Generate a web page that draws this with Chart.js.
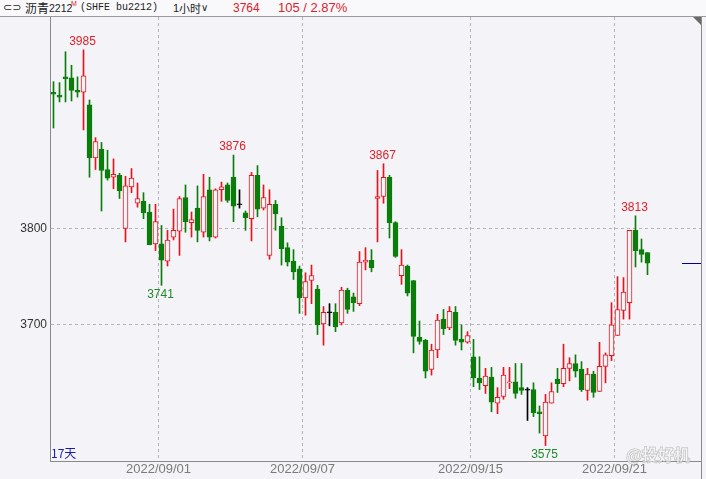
<!DOCTYPE html>
<html>
<head>
<meta charset="utf-8">
<script src="https://cdn.jsdelivr.net/npm/chart.js@4.4.0/dist/chart.umd.min.js"></script>
<style>
  html, body { margin: 0; padding: 0; background: #f4f4f8; }
  #wrap { position: relative; width: 706px; height: 479px; overflow: hidden; }
  #chart { position: absolute; left: 0; top: 0; }
  #head { position: absolute; left: 0; top: 0; width: 706px; height: 16px; background: #f9f9fb;
          border-bottom: 1px solid #9a9a9a; font: 12px "Liberation Sans", Arial, sans-serif; color: #222; }
  #head span { position: absolute; top: 1px; line-height: 14px; white-space: nowrap; }
  #head .cjk { font-family: "Noto Sans CJK SC", sans-serif; }
  #head .red { color: #e0202a; }
</style>
</head>
<body>
<div id="wrap">
  <canvas id="chart" width="706" height="479"></canvas>
  <div id="head">
    <span style="left:3px;font-family:'DejaVu Sans';font-size:11px;">&#8834;&#8835;</span>
    <span class="cjk" style="left:25px;">沥青</span>
    <span style="left:49px;font-size:10.5px;">2212</span>
    <span class="red" style="left:71px;top:0;font-size:7px;line-height:8px;">M</span>
    <span style="left:80px;font-family:'Liberation Mono';font-size:10px;">(SHFE bu2212)</span>
    <span style="left:173px;font-size:11px;">1</span>
    <span class="cjk" style="left:179px;font-size:11px;">小时</span>
    <span style="left:201px;font-size:10px;">&#8744;</span>
    <span class="red" style="left:233px;">3764</span>
    <span class="red" style="left:278px;font-size:13px;">105 / 2.87%</span>
  </div>
</div>
<script>
// hourly candles, bu2212, 17 days
const openP = [
  3941,3938,3957,3956,3943,3941,3928,3873,3882,3861,
  3853,3855,3800,3843,3826,3828,3817,3784,3784,3766,
  3791,3797,3832,3806,3821,3796,3840,3791,3840,3845,
  3853,3825,3816,3810,3855,3821,3772,3825,3802,3780,
  3766,3758,3728,3746,3737,3701,3713,3713,3702,3736,
  3729,3722,3765,3767,3831,3833,3853,3806,3751,3761,
  3746,3687,3684,3654,3674,3706,3697,3713,3685,3682,
  3667,3645,3637,3646,3619,3626,3640,3641,3635,3633,
  3633,3610,3585,3619,3644,3639,3655,3660,3654,3632,
  3649,3631,3657,3668,3689,3715,3723,3798,3778,3775
];
const highP = [
  3952,3951,3983,3969,3957,3985,3933,3894,3889,3881,
  3872,3857,3854,3862,3847,3837,3825,3825,3803,3798,
  3820,3833,3845,3817,3844,3856,3853,3841,3848,3847,
  3876,3840,3818,3858,3865,3845,3840,3829,3811,3785,
  3778,3761,3754,3762,3741,3719,3722,3722,3739,3738,
  3733,3776,3780,3778,3860,3867,3855,3807,3778,3762,
  3746,3704,3685,3680,3711,3716,3719,3719,3700,3693,
  3685,3667,3655,3656,3635,3656,3656,3660,3660,3635,
  3640,3616,3628,3640,3655,3680,3666,3669,3662,3655,
  3652,3682,3671,3723,3750,3749,3798,3813,3789,3775
];
const lowP = [
  3904,3931,3931,3932,3936,3902,3853,3861,3818,3850,
  3841,3831,3786,3837,3822,3810,3783,3777,3741,3761,
  3788,3772,3796,3791,3786,3791,3787,3790,3828,3827,
  3807,3821,3798,3787,3812,3819,3768,3798,3762,3761,
  3747,3712,3710,3722,3690,3679,3699,3693,3700,3712,
  3714,3720,3757,3755,3786,3826,3790,3770,3742,3730,
  3671,3680,3645,3648,3666,3690,3695,3679,3674,3681,
  3636,3633,3629,3610,3608,3623,3634,3624,3628,3601,
  3605,3588,3575,3619,3630,3636,3642,3646,3631,3622,
  3625,3631,3640,3663,3689,3706,3706,3760,3765,3752
];
const closeP = [
  3939,3936,3955,3943,3941,3958,3873,3890,3860,3852,
  3856,3839,3844,3852,3831,3816,3783,3807,3767,3788,
  3798,3831,3807,3809,3798,3833,3791,3840,3843,3829,
  3823,3825,3811,3855,3820,3832,3825,3815,3779,3765,
  3755,3728,3745,3751,3700,3713,3713,3698,3736,3716,
  3723,3765,3767,3759,3833,3853,3806,3771,3762,3733,
  3688,3683,3652,3674,3705,3696,3714,3684,3682,3689,
  3645,3640,3647,3620,3625,3648,3641,3629,3632,3633,
  3609,3608,3620,3631,3639,3655,3660,3652,3633,3649,
  3630,3657,3669,3700,3716,3734,3798,3777,3773,3764
];

// first candle of each labelled day, and its label
const dayStarts = [18, 42, 70, 94];
const dayLabels = ['2022/09/01', '2022/09/07', '2022/09/15', '2022/09/21'];
const yTicks = [3700, 3800];
const highMarks = [5, 30, 55, 97];
const lowMarks = [18, 82];
const lastPrice = 3764;

const upColor = '#e8141c';
const downColor = '#0a7d0a';
const flatColor = '#000000';
const bgColor = '#f4f4f8';

const idx = openP.map((_, i) => i);
const candleColor = idx.map(i => closeP[i] > openP[i] ? upColor : (closeP[i] < openP[i] ? downColor : flatColor));

const wicks = idx.map(i => ({ x: i, y: [lowP[i], highP[i]] }));
const bodies = idx.map(i => {
  const o = openP[i], c = closeP[i];
  return { x: i, y: o === c ? [o - 0.5, o + 0.5] : [Math.min(o, c), Math.max(o, c)] };
});

const extras = {
  id: 'extras',
  afterDatasetsDraw(chart) {
    const { ctx, chartArea: a, scales: { x, y } } = chart;
    ctx.save();
    ctx.font = '12px "Liberation Sans", Arial, sans-serif';
    ctx.textAlign = 'center';
    ctx.fillStyle = '#e0202a';
    ctx.textBaseline = 'bottom';
    highMarks.forEach(i => ctx.fillText(String(highP[i]), x.getPixelForValue(i) - 1, y.getPixelForValue(highP[i]) - 2));
    ctx.fillStyle = '#1f8a2a';
    ctx.textBaseline = 'top';
    lowMarks.forEach(i => ctx.fillText(String(lowP[i]), x.getPixelForValue(i) - 1, y.getPixelForValue(lowP[i]) + 3));

    // current price marker
    const py = Math.round(y.getPixelForValue(lastPrice)) + 0.5;
    ctx.strokeStyle = '#00008b';
    ctx.lineWidth = 1;
    ctx.beginPath();
    ctx.moveTo(682, py);
    ctx.lineTo(a.right, py);
    ctx.stroke();

    // right frame and corner mark
    ctx.strokeStyle = '#8a8a8a';
    ctx.beginPath();
    ctx.moveTo(a.right + 0.5, a.top);
    ctx.lineTo(a.right + 0.5, chart.height);
    ctx.stroke();
    ctx.fillStyle = '#6a6a6a';
    ctx.beginPath();
    ctx.moveTo(a.right - 8, a.top);
    ctx.lineTo(a.right, a.top);
    ctx.lineTo(a.right, a.top + 8);
    ctx.closePath();
    ctx.fill();

    // day count
    ctx.textAlign = 'left';
    ctx.textBaseline = 'alphabetic';
    ctx.fillStyle = '#1c1ca8';
    ctx.font = '12px "Noto Sans CJK SC", sans-serif';
    ctx.fillText('17天', a.left + 1, a.bottom - 3);

    // watermark
    ctx.font = 'bold 16px "Noto Sans CJK SC", sans-serif';
    ctx.textAlign = 'right';
    ctx.textBaseline = 'middle';
    ctx.fillStyle = 'rgba(255,255,255,0.55)';
    ctx.strokeStyle = 'rgba(160,160,160,0.7)';
    ctx.lineWidth = 1;
    ctx.strokeText('@投好机', 690, 455);
    ctx.fillText('@投好机', 690, 455);
    ctx.restore();
  }
};

new Chart(document.getElementById('chart'), {
  type: 'bar',
  data: {
    datasets: [
      {
        data: wicks,
        backgroundColor: candleColor,
        barThickness: 1,
        grouped: false,
        order: 2
      },
      {
        data: bodies,
        backgroundColor: idx.map(i => closeP[i] > openP[i] ? bgColor : candleColor[i]),
        borderColor: candleColor,
        borderWidth: 1,
        borderSkipped: false,
        barThickness: 5,
        grouped: false,
        order: 1
      }
    ]
  },
  options: {
    responsive: false,
    animation: false,
    layout: { padding: { top: 17, right: 5, left: 0, bottom: 0 } },
    plugins: { legend: { display: false }, tooltip: { enabled: false } },
    scales: {
      x: {
        type: 'linear',
        offset: false,
        min: -0.5833,
        max: 107.9167,
        afterBuildTicks: s => { s.ticks = dayStarts.map(d => ({ value: d - 0.5 })); },
        afterFit: s => { s.height = 18; },
        ticks: {
          autoSkip: false,
          maxRotation: 0,
          padding: 1,
          color: '#7a7a7a',
          font: { family: '"Liberation Sans", Arial, sans-serif', size: 13 },
          callback: (v, i) => dayLabels[i]
        },
        grid: { color: '#b4b4b4', drawTicks: false, offset: false },
        border: { color: '#8a8a8a', dash: [3, 3] }
      },
      y: {
        min: 3559,
        max: 4019,
        afterBuildTicks: s => { s.ticks = yTicks.map(v => ({ value: v })); },
        afterFit: s => { s.width = 50; },
        ticks: {
          padding: 3,
          color: '#333',
          font: { family: '"Liberation Sans", Arial, sans-serif', size: 12 },
          callback: v => String(v)
        },
        grid: { color: '#b4b4b4', drawTicks: false },
        border: { color: '#8a8a8a', dash: [3, 3] }
      }
    }
  },
  plugins: [extras]
});
</script>
</body>
</html>
